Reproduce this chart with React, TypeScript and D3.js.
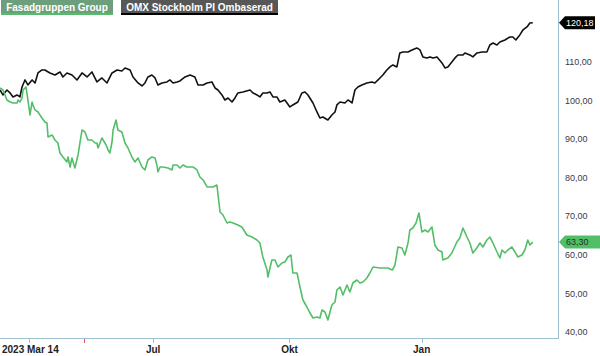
import React, { useEffect, useRef } from "react";
import * as d3 from "d3";

// trading-day index since 2023-03-14, closing value (rebased)
const omxDays = [0, 1.4, 3.3, 4.8, 6.2, 8.1, 9.5, 10.5, 11.9, 13.3, 15.3, 16.7, 18.1, 20, 21.4, 23.8, 26.2, 28.6, 30, 31.9, 34.3, 36.7, 39.1, 41.5, 43.8, 46.2, 48.6, 51, 53.4, 55.8, 58.1, 59.6, 62, 63.4, 65.8, 67.7, 69.1, 70.5, 72.4, 73.9, 75.3, 77.2, 79.6, 81, 82.5, 84.4, 85.8, 88.2, 90.6, 92.9, 94.4, 96.8, 98.7, 101, 102.5, 103.9, 105.8, 107.2, 108.7, 110.6, 112, 113.4, 115.8, 119.2, 120.6, 122.5, 123.9, 125.3, 127.3, 128.7, 130.1, 132, 133.4, 135.8, 138.2, 139.6, 142, 143.9, 145.4, 146.8, 149.2, 151.1, 152.5, 153.9, 156.3, 158.2, 159.7, 160.6, 162.1, 164.4, 165.9, 167.8, 169.2, 170.6, 172.5, 174.9, 177.3, 178.7, 180.2, 182.5, 184.4, 185.9, 187.3, 189.2, 190.6, 192.1, 194.5, 196.4, 198.7, 200.2, 201.6, 203.5, 205, 206.4, 208.3, 210.7, 212.1, 213.5, 215.4, 216.9, 218.3, 220.7, 221.6, 224, 225.4, 227.4, 229.7, 232.1, 233.5, 235, 236.9, 238.3, 240.7, 243.1, 244.5, 245.9, 247.8, 249.3, 251.2, 252.6, 254];
const omxValues = [102.74, 101.45, 102.74, 101.97, 100.93, 101.45, 100.93, 103.52, 105.34, 104.04, 105.34, 104.56, 107.15, 107.93, 107.93, 107.15, 106.63, 107.41, 106.11, 107.15, 106.63, 105.34, 107.15, 106.11, 107.41, 104.82, 105.86, 104.56, 107.15, 107.93, 107.67, 108.45, 107.93, 106.11, 104.56, 103.78, 104.56, 106.11, 106.63, 105.86, 104.04, 104.56, 104.82, 105.34, 104.56, 104.82, 105.08, 106.11, 106.63, 106.11, 104.04, 104.04, 104.56, 104.82, 103.26, 102.74, 101.45, 100.15, 100.67, 99.63, 100.67, 101.97, 102.23, 102.74, 101.97, 101.45, 100.93, 101.97, 101.97, 102.23, 100.93, 100.93, 99.63, 100.15, 98.34, 98.86, 99.63, 101.97, 102.23, 101.45, 99.37, 97.04, 95.48, 95.74, 94.96, 96.26, 97.04, 98.86, 99.63, 99.37, 100.15, 99.37, 102.74, 103.52, 104.04, 104.56, 104.82, 104.56, 105.34, 106.63, 107.93, 108.71, 109.23, 108.71, 112.34, 112.6, 112.6, 113.12, 113.64, 113.12, 111.31, 111.05, 111.31, 111.05, 111.31, 109.75, 108.45, 108.71, 110, 111.05, 111.82, 111.82, 112.34, 111.82, 111.31, 112.34, 112.6, 112.6, 114.41, 114.93, 114.41, 115.19, 115.71, 116.49, 116.49, 115.71, 117.01, 118.3, 119.08, 120.12, 120.18];

const fasadDays = [0, 1.4, 2.4, 3.3, 4.8, 6.2, 8.1, 8.6, 9.5, 10.5, 11, 12.4, 13.3, 14.3, 15.3, 15.7, 16.7, 18.1, 20, 21.4, 22.4, 22.9, 24.8, 26.2, 27.6, 28.6, 30, 31.9, 32.4, 33.4, 34.3, 35.7, 37.2, 39.1, 40.5, 41.9, 43.8, 45.3, 46.2, 46.7, 48.6, 50, 51, 51.5, 52.4, 53.4, 53.9, 55.3, 56.2, 58.1, 59.6, 61, 62.9, 64.3, 65.8, 67.7, 69.1, 70.5, 72.4, 73.9, 74.8, 75.3, 76.3, 77.7, 80.1, 82, 82.5, 84.4, 85.8, 87.2, 89.1, 90.6, 92, 93.9, 95.3, 96.8, 98.7, 101.5, 103.4, 104.9, 106.3, 108.2, 109.6, 111.1, 113.4, 115.3, 117.7, 120.1, 122.5, 123.9, 125.3, 127.3, 127.7, 129.6, 131.1, 132.5, 134.4, 135.8, 137.3, 138.7, 139.6, 141.6, 143, 144.4, 146.3, 147.8, 149.2, 151.1, 152.5, 153.5, 154.9, 156.3, 158.2, 159.7, 160.6, 162.1, 163.5, 165.4, 166.8, 168.2, 170.1, 171.6, 173, 174.9, 176.3, 177.8, 181.1, 184.9, 187, 188.3, 189.7, 191.6, 193, 194.5, 195.4, 196.8, 198.3, 199.7, 201.1, 202.6, 204, 205.9, 207.3, 208.8, 210.7, 211.1, 213.5, 215.4, 217.8, 219.2, 220.7, 222.6, 224, 225.4, 227.3, 228.8, 230.2, 232.1, 233.5, 235, 236.9, 238.3, 239.3, 240.7, 242.1, 244, 245.5, 246.9, 248.8, 250.2, 251.6, 252.6, 254];
const fasadValues = [103.26, 102.74, 101.45, 100.15, 99.63, 99.37, 99.37, 100.15, 99.63, 100.67, 102.74, 103.52, 100.15, 96.26, 99.63, 98.86, 97.56, 97.04, 95.48, 94.45, 94.19, 90.56, 91.08, 89.78, 89, 86.41, 85.37, 84.08, 85.37, 82.78, 85.11, 82.52, 85.89, 92.37, 91.86, 89.78, 89.78, 89, 89, 87.71, 90.3, 89, 87.97, 87.19, 86.41, 89.26, 92.37, 94.96, 92.37, 91.86, 89, 87.71, 85.37, 84.08, 85.11, 82.78, 82, 84.59, 85.37, 85.11, 83.3, 81.48, 82.78, 82.78, 82.52, 82, 83.3, 83.3, 82.52, 83.3, 82.78, 82.78, 82.78, 82, 80.19, 79.41, 77.6, 77.6, 78.11, 71.11, 70.33, 68.26, 68.52, 68.26, 67.74, 67.22, 65.15, 64.63, 63.85, 63.07, 59.44, 56.07, 54.26, 58.67, 58.67, 56.85, 57.89, 58.15, 59.44, 59.96, 55.29, 55.29, 51.67, 48.29, 46.48, 44.92, 43.63, 43.89, 43.63, 45.7, 45.18, 43.11, 47, 47.78, 50.89, 51.67, 49.59, 52.18, 50.37, 52.7, 53.48, 52.7, 52.96, 54, 55.29, 56.85, 56.59, 56.59, 56.07, 57.37, 62.04, 61.78, 59.96, 63.07, 66.45, 66.96, 68.26, 70.85, 65.93, 66.45, 65.93, 67.22, 62.56, 61.26, 60.74, 58.67, 59.19, 60.48, 63.33, 64.37, 66.96, 64.63, 63.07, 60.48, 61.78, 63.07, 62.04, 63.85, 64.63, 63.07, 60.74, 59.19, 61.26, 60.48, 61.26, 62.04, 60.74, 59.44, 59.96, 61.26, 63.85, 62.56, 63.3];

const yTicks = [40, 50, 60, 70, 80, 90, 100, 110];
const xTickDays = [14, 73, 138, 201];
const xTickLabels = ["2023 Mar 14", "Jul", "Okt", "Jan"];
const eventDays = [40];
const seriesNames = ["Fasadgruppen Group", "OMX Stockholm PI Ombaserad"];

export default function App() {
  const ref = useRef<SVGSVGElement>(null);

  useEffect(() => {
    document.body.style.margin = "0";
    const svg = d3.select(ref.current);
    svg.selectAll("*").remove();

    const plotRight = 558,
      plotBottom = 338;
    const axisColor = "#9dbfd3";
    const green = "#52bf68";
    const font = "Liberation Sans, Arial, sans-serif";

    const x = d3.scaleLinear().domain([0, 266]).range([0, plotRight]);
    const y = d3.scaleLinear().domain([40, 120]).range([332, 23.4]);
    const fmt = (v: number) => d3.format(".2f")(v).replace(".", ",");

    const g = svg.append("g");

    // frame
    g.append("line")
      .attr("x1", 0).attr("x2", plotRight)
      .attr("y1", plotBottom + 0.5).attr("y2", plotBottom + 0.5)
      .attr("stroke", axisColor);
    g.append("line")
      .attr("x1", plotRight + 0.5).attr("x2", plotRight + 0.5)
      .attr("y1", 0).attr("y2", plotBottom + 1)
      .attr("stroke", axisColor);

    // x ticks
    g.selectAll("line.xt")
      .data(xTickDays)
      .enter()
      .append("line")
      .attr("class", "xt")
      .attr("x1", (d) => Math.round(x(d)) + 0.5)
      .attr("x2", (d) => Math.round(x(d)) + 0.5)
      .attr("y1", plotBottom)
      .attr("y2", plotBottom + 5)
      .attr("stroke", axisColor);
    g.selectAll("line.ev")
      .data(eventDays)
      .enter()
      .append("line")
      .attr("class", "ev")
      .attr("x1", (d) => Math.round(x(d)) + 0.5)
      .attr("x2", (d) => Math.round(x(d)) + 0.5)
      .attr("y1", plotBottom + 1)
      .attr("y2", plotBottom + 5)
      .attr("stroke", "#e8505b");
    g.selectAll("text.xl")
      .data(xTickDays)
      .enter()
      .append("text")
      .attr("class", "xl")
      .attr("x", (d, i) => (i === 0 ? 2 : x(d)))
      .attr("y", 353)
      .attr("text-anchor", (d, i) => (i === 0 ? "start" : "middle"))
      .attr("font-family", font)
      .attr("font-size", 10)
      .attr("font-weight", "bold")
      .attr("fill", "#222")
      .text((d, i) => xTickLabels[i]);

    // y labels
    g.selectAll("text.yl")
      .data(yTicks)
      .enter()
      .append("text")
      .attr("class", "yl")
      .attr("x", 565)
      .attr("y", (d) => y(d))
      .attr("dy", "0.35em")
      .attr("font-family", font)
      .attr("font-size", 9)
      .attr("fill", "#3a3a4a")
      .text((d) => fmt(d));

    const line = d3.line<number>().x((d) => x(d));

    g.append("path")
      .attr("d", line.y((d, i) => y(omxValues[i]))(omxDays))
      .attr("fill", "none")
      .attr("stroke", "#111")
      .attr("stroke-width", 1.6)
      .attr("stroke-linejoin", "round");
    g.append("path")
      .attr("d", line.y((d, i) => y(fasadValues[i]))(fasadDays))
      .attr("fill", "none")
      .attr("stroke", green)
      .attr("stroke-width", 1.6)
      .attr("stroke-linejoin", "round");

    // last value tags
    const tags = [
      { v: omxValues[omxValues.length - 1], fill: "#000", text: "#fff", w: 36 },
      { v: fasadValues[fasadValues.length - 1], fill: green, text: "#1f3324", w: 42 },
    ];
    tags.forEach((t) => {
      const yy = y(t.v);
      const x0 = plotRight + 1;
      g.append("path")
        .attr("d", `M${x0},${yy} L${x0 + 6},${yy - 6.5} L${x0 + t.w},${yy - 6.5} L${x0 + t.w},${yy + 6.5} L${x0 + 6},${yy + 6.5} Z`)
        .attr("fill", t.fill);
      g.append("text")
        .attr("x", 566)
        .attr("y", yy)
        .attr("dy", "0.35em")
        .attr("font-family", font)
        .attr("font-size", 9)
        .attr("fill", t.text)
        .text(fmt(t.v));
    });

    // legend
    const legend = [
      { x: 1, w: 112, fill: "#6e9f7c", line: green },
      { x: 121, w: 157, fill: "#575757", line: "#000" },
    ];
    legend.forEach((l, i) => {
      g.append("rect")
        .attr("x", l.x).attr("y", 0)
        .attr("width", l.w).attr("height", 14)
        .attr("fill", l.fill);
      g.append("rect")
        .attr("x", l.x).attr("y", 13)
        .attr("width", l.w).attr("height", 2)
        .attr("fill", l.line);
      g.append("text")
        .attr("x", l.x + l.w / 2)
        .attr("y", 10.5)
        .attr("text-anchor", "middle")
        .attr("font-family", font)
        .attr("font-size", 10)
        .attr("font-weight", "bold")
        .attr("fill", "#fff")
        .text(seriesNames[i]);
    });
  }, []);

  return <svg ref={ref} width={600} height={356} style={{ display: "block" }} />;
}
